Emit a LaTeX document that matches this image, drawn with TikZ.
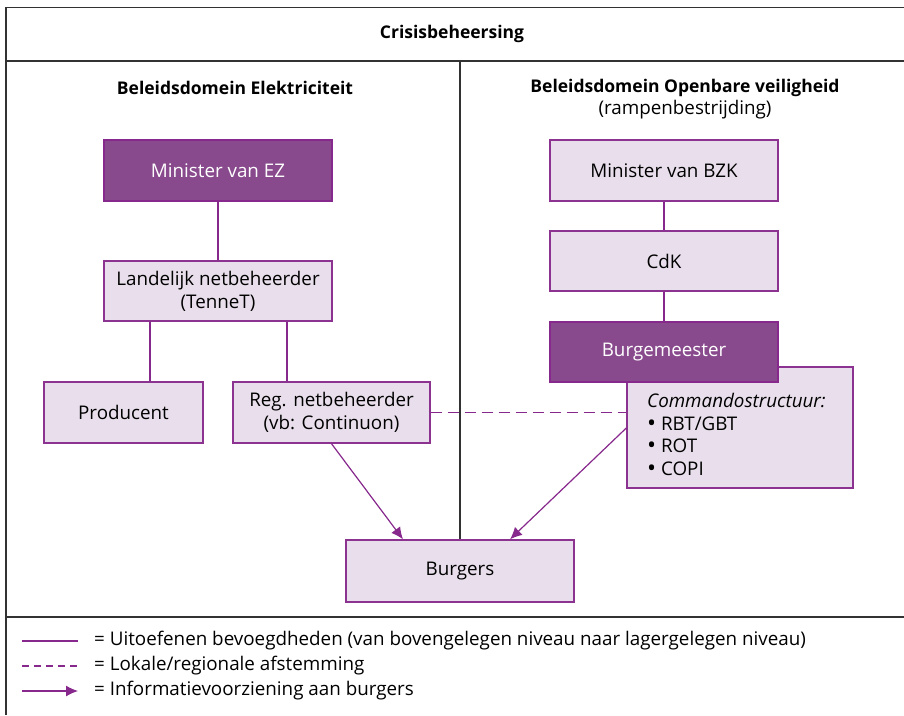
\documentclass[tikz,border=0pt]{standalone}
\usepackage{fontspec}
\setmainfont{Open Sans}
\usetikzlibrary{arrows.meta}
\definecolor{darkp}{RGB}{136,74,140}
\definecolor{lightp}{RGB}{233,223,236}
\definecolor{edgep}{RGB}{140,50,145}
\definecolor{linep}{RGB}{135,40,140}
\definecolor{frame}{RGB}{50,50,50}
\newcommand{\bigbul}{\raisebox{-1pt}{\fontsize{24}{0}\selectfont\textbullet}\ }
\tikzset{
  box/.style={draw=edgep, line width=1.4pt, fill=lightp, text=black, align=center,
    inner sep=0pt, font=\fontsize{18.8}{23}\selectfont},
  darkbox/.style={box, fill=darkp, draw=linep, text=white},
  conn/.style={draw=linep, line width=1.2pt},
  dconn/.style={conn, dash pattern=on 11pt off 6pt},
  arr/.style={conn, -{Latex[length=12pt,width=11pt]}},
  frameline/.style={draw=frame, line width=1.5pt},
  txt/.style={inner sep=0pt, font=\fontsize{18.8}{22.5}\selectfont},
  ttl/.style={txt, font=\fontsize{17.5}{22}\selectfont\bfseries}
}
\begin{document}
\begin{tikzpicture}[x=1pt,y=-1pt]
\useasboundingbox (0,0) rectangle (904,715);
% frame
\draw[frameline] (6,715) -- (6,7.5) -- (904,7.5);
\draw[frameline] (6,61) -- (904,61);
\draw[frameline] (6,617) -- (904,617);
\node[ttl] (title) at (452,34) {Crisisbeheersing};
\node[ttl] (dom1) at (235,88) {Beleidsdomein Elektriciteit};
\node[ttl] (dom2) at (685,88) {Beleidsdomein Openbare veiligheid};
\node[txt] (dom2b) at (685,110) {(rampenbestrijding)};
% boxes
\node[darkbox, minimum width=228pt, minimum height=61pt] (ez) at (218,170.5) {Minister van EZ};
\node[box, minimum width=228pt, minimum height=60pt] (land) at (218,291) {Landelijk netbeheerder\\(TenneT)};
\node[box, minimum width=159pt, minimum height=61pt] (prod) at (123.5,412.5) {Producent};
\node[box, minimum width=197pt, minimum height=61pt] (reg) at (331.5,412.5) {Reg. netbeheerder\\(vb: Continuon)};
\node[box, minimum width=228pt, minimum height=61pt] (bzk) at (664,170.5) {Minister van BZK};
\node[box, minimum width=228pt, minimum height=60pt] (cdk) at (664,261) {CdK};
\node[box, minimum width=226pt, minimum height=121pt] (cmd) at (740,427.5) {};
\node[txt, anchor=north west, align=left] (cmdtext) at (647,393.5)
  {\textit{Commandostructuur:}\\\bigbul RBT/GBT\\\bigbul ROT\\\bigbul COPI};
\node[darkbox, minimum width=228pt, minimum height=60pt] (bm) at (664,352) {Burgemeester};
\node[box, minimum width=228pt, minimum height=62pt] (burg) at (460,571) {Burgers};
% divider
\draw[frameline] (460,61) -- (burg.north);
% connectors
\draw[conn] (ez) -- (land);
\draw[conn] (150,0 |- land.south) -- (150,0 |- prod.north);
\draw[conn] (287,0 |- land.south) -- (287,0 |- reg.north);
\draw[conn] (bzk) -- (cdk);
\draw[conn] (cdk) -- (cdk |- bm.north);
\draw[dconn] (reg.east) -- (reg.east -| cmd.west);
\draw[arr] (reg.south) -- (403,0 |- burg.north);
\draw[arr] (cmd.west |- 0,428) -- (510,0 |- burg.north);
% legend
\coordinate (l1a) at (22,641); \coordinate (l1b) at (78,641);
\coordinate (l2a) at (22,666); \coordinate (l2b) at (78,666);
\coordinate (l3a) at (22,691); \coordinate (l3b) at (78,691);
\draw[conn] (l1a) -- (l1b);
\draw[conn, dash pattern=on 7pt off 5pt] (l2a) -- (l2b);
\draw[arr] (l3a) -- (l3b);
\node[txt, anchor=west] (t1) at (94,641) {= Uitoefenen bevoegdheden (van bovengelegen niveau naar lagergelegen niveau)};
\node[txt, anchor=west] (t2) at (94,666) {= Lokale/regionale afstemming};
\node[txt, anchor=west] (t3) at (94,691) {= Informatievoorziening aan burgers};
\end{tikzpicture}
\end{document}
